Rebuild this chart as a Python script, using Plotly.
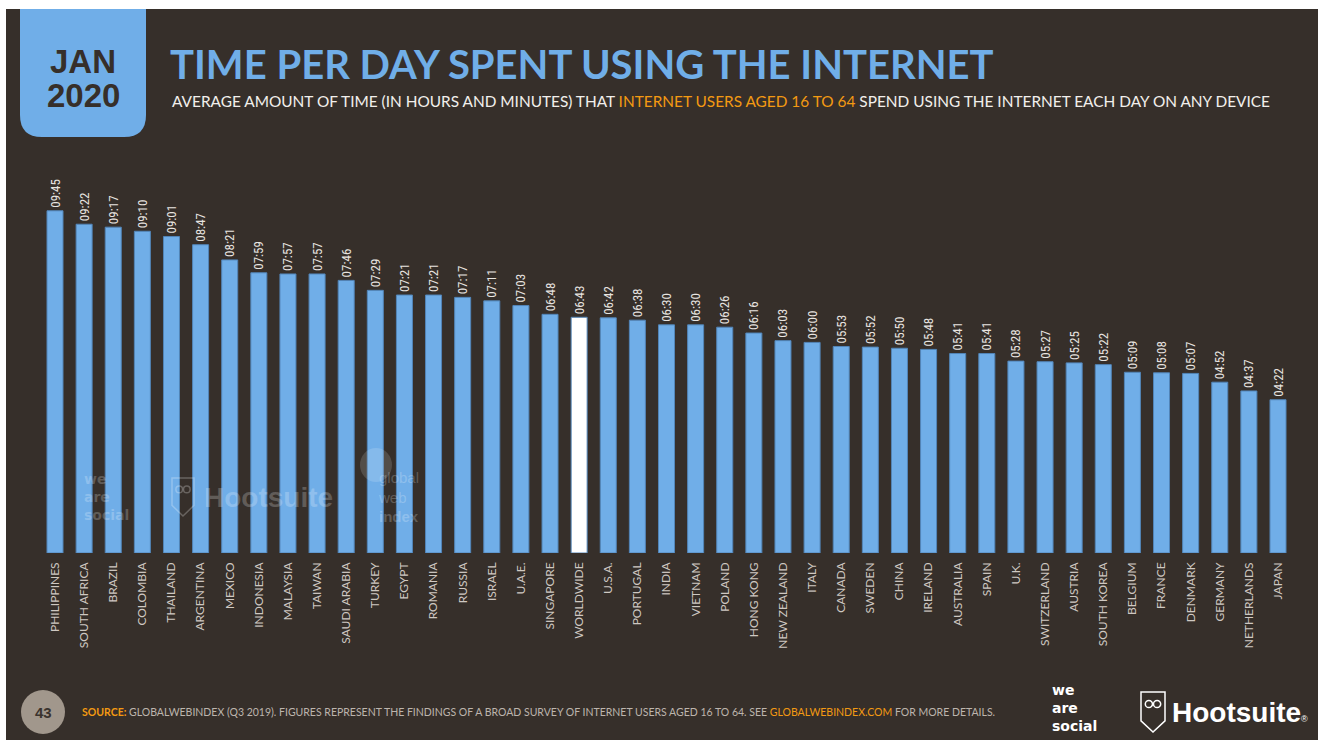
import plotly.graph_objects as go

countries = ["PHILIPPINES", "SOUTH AFRICA", "BRAZIL", "COLOMBIA", "THAILAND", "ARGENTINA",
             "MEXICO", "INDONESIA", "MALAYSIA", "TAIWAN", "SAUDI ARABIA", "TURKEY", "EGYPT",
             "ROMANIA", "RUSSIA", "ISRAEL", "U.A.E.", "SINGAPORE", "WORLDWIDE", "U.S.A.",
             "PORTUGAL", "INDIA", "VIETNAM", "POLAND", "HONG KONG", "NEW ZEALAND", "ITALY",
             "CANADA", "SWEDEN", "CHINA", "IRELAND", "AUSTRALIA", "SPAIN", "U.K.",
             "SWITZERLAND", "AUSTRIA", "SOUTH KOREA", "BELGIUM", "FRANCE", "DENMARK",
             "GERMANY", "NETHERLANDS", "JAPAN"]
times = ["09:45", "09:22", "09:17", "09:10", "09:01", "08:47", "08:21", "07:59", "07:57",
         "07:57", "07:46", "07:29", "07:21", "07:21", "07:17", "07:11", "07:03", "06:48",
         "06:43", "06:42", "06:38", "06:30", "06:30", "06:26", "06:16", "06:03", "06:00",
         "05:53", "05:52", "05:50", "05:48", "05:41", "05:41", "05:28", "05:27", "05:25",
         "05:22", "05:09", "05:08", "05:07", "04:52", "04:37", "04:22"]
highlight = "WORLDWIDE"

hours = [int(t.split(":")[0]) + int(t.split(":")[1]) / 60 for t in times]

W, H = 1318, 740
BG = "#362F2A"
BLUE = "#70AEE8"
ORANGE = "#F39A12"
GREY = "#CFC8C2"


def px(x):
    return x / W


def py(y):
    return 1 - y / H


colors = ["#FFFFFF" if c == highlight else BLUE for c in countries]

fig = go.Figure(go.Bar(
    x=countries, y=hours,
    marker=dict(color=colors, line=dict(color="#5285B8", width=1)),
    width=0.55,
    text=times, textposition="outside", textangle=-90,
    textfont=dict(family="Liberation Sans Narrow, Roboto Condensed, Roboto", size=13, color="#E8E4E0"),
    constraintext="none", cliponaxis=False,
    hoverinfo="skip",
))

n = len(countries)
first_c, last_c = 55, 1278
step = (last_c - first_c) / (n - 1)
x0 = first_c - step / 2
x1 = last_c + step / 2
base_y = 553
ppu = 35.1
top_y = base_y - 12 * ppu

fig.update_layout(
    width=W, height=H,
    margin=dict(l=0, r=0, t=0, b=0),
    paper_bgcolor="white", plot_bgcolor="rgba(0,0,0,0)",
    showlegend=False,
    xaxis=dict(domain=[px(x0), px(x1)], range=[-0.5, n - 0.5], showgrid=False, zeroline=False,
               showline=False, ticks="", tickangle=-90,
               tickfont=dict(family="Lato, Open Sans", size=12, color=GREY),
               ticklabelstandoff=6, fixedrange=True),
    yaxis=dict(domain=[py(base_y), py(top_y)], range=[0, 12], visible=False, fixedrange=True),
)

shapes = []
# slide background
shapes.append(dict(type="rect", xref="paper", yref="paper", x0=px(6), x1=1, y0=0, y1=py(9),
                   fillcolor=BG, line=dict(width=0), layer="below"))
# date tab with rounded bottom corners
bx0, bx1, by0, by1, r = 20, 146, 9, 137, 22
path = (f"M {px(bx0)},{py(by0)} L {px(bx1)},{py(by0)} L {px(bx1)},{py(by1 - r)} "
        f"Q {px(bx1)},{py(by1)} {px(bx1 - r)},{py(by1)} L {px(bx0 + r)},{py(by1)} "
        f"Q {px(bx0)},{py(by1)} {px(bx0)},{py(by1 - r)} Z")
shapes.append(dict(type="path", xref="paper", yref="paper", path=path, fillcolor=BLUE,
                   line=dict(width=0), layer="below"))
# page number circle
shapes.append(dict(type="circle", xref="paper", yref="paper", x0=px(21), x1=px(65),
                   y0=py(734), y1=py(690), fillcolor="#A1978C", line=dict(width=0)))


def owl(xl, yt, w, h, col, lw):
    out = [dict(type="path", xref="paper", yref="paper",
                path=(f"M {px(xl)},{py(yt)} L {px(xl + w)},{py(yt)} L {px(xl + w)},{py(yt + h * 0.72)} "
                      f"L {px(xl + w / 2)},{py(yt + h)} L {px(xl)},{py(yt + h * 0.72)} Z"),
                fillcolor="rgba(0,0,0,0)", line=dict(color=col, width=lw))]
    e = w * 0.3
    cy = yt + h * 0.3
    out.append(dict(type="circle", xref="paper", yref="paper", x0=px(xl + w / 2 - e - 0.5),
                    x1=px(xl + w / 2 - 0.5), y0=py(cy + e / 2), y1=py(cy - e / 2),
                    line=dict(color=col, width=lw)))
    out.append(dict(type="circle", xref="paper", yref="paper", x0=px(xl + w / 2 + 0.5),
                    x1=px(xl + w / 2 + e + 0.5), y0=py(cy + e / 2), y1=py(cy - e / 2),
                    line=dict(color=col, width=lw)))
    return out


shapes += owl(1141, 692, 24, 40, "white", 1.5)
shapes += owl(172, 478, 22, 38, "rgba(255,255,255,0.25)", 1.5)
shapes.append(dict(type="circle", xref="paper", yref="paper", x0=px(360), x1=px(392),
                   y0=py(482), y1=py(448), fillcolor="rgba(255,255,255,0.15)", line=dict(width=0)))
fig.update_layout(shapes=shapes)

ann = []


def txt(t, x, y, size, color, family="Liberation Sans, Arial", xanchor="left", **kw):
    ann.append(dict(text=t, x=px(x), y=py(y), xref="paper", yref="paper", xanchor=xanchor,
                    yanchor="middle", showarrow=False, font=dict(family=family, size=size, color=color),
                    **kw))


txt("<b>JAN</b>", 83, 61, 33, BG, xanchor="center")
txt("<b>2020</b>", 83, 95, 33, BG, xanchor="center")
txt("<b>TIME PER DAY SPENT USING THE INTERNET</b>", 168, 64, 40, BLUE, family="Lato, Open Sans")
txt(("AVERAGE AMOUNT OF TIME (IN HOURS AND MINUTES) THAT "
     f"<span style='color:{ORANGE}'>INTERNET USERS AGED 16 TO 64</span> "
     "SPEND USING THE INTERNET EACH DAY ON ANY DEVICE"), 170, 101, 15.4, "#F2EFEC",
    family="Lato, Open Sans")
txt("<b>43</b>", 43, 712, 15, "#3A332E", xanchor="center")
txt((f"<b><span style='color:{ORANGE}'>SOURCE:</span></b> GLOBALWEBINDEX (Q3 2019). "
     "FIGURES REPRESENT THE FINDINGS OF A BROAD SURVEY OF INTERNET USERS AGED 16 TO 64. SEE "
     f"<span style='color:{ORANGE}'>GLOBALWEBINDEX.COM</span> FOR MORE DETAILS."),
    80, 712, 10.5, "#BDB5AD", family="Lato, Open Sans")
txt("<b>we<br>are<br>social</b>", 1050, 708, 14, "white", family="DejaVu Sans", align="left")
txt("<b>Hootsuite</b><span style='font-size:9px'>®</span>", 1170, 712, 28, "white")

# faint watermarks over the bars
wm = "rgba(255,255,255,0.22)"
txt("<b>we<br>are<br>social</b>", 82, 497, 14, wm, family="DejaVu Sans", align="left")
txt("<b>Hootsuite</b>", 202, 497, 28, wm)
txt("global<br>web<br><b>index</b>", 376, 497, 15, wm, align="left")
fig.update_layout(annotations=ann)

fig.write_html("out.html", config={"displayModeBar": False},
               post_script="document.body.style.margin='0';document.body.style.overflow='hidden';")
